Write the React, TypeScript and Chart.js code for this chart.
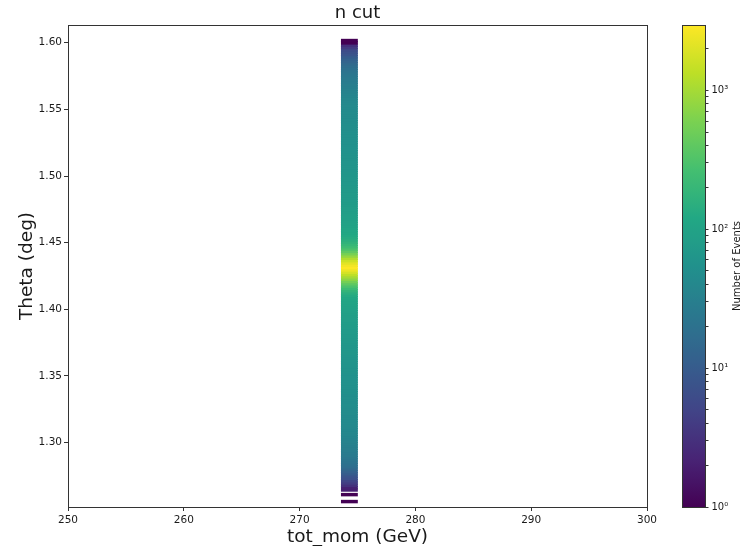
import React, { useEffect, useRef } from "react";
import { Chart, registerables } from "chart.js";

Chart.register(...registerables);

// ---------- text ----------
const TITLE = "n cut";
const X_LABEL = "tot_mom (GeV)";
const Y_LABEL = "Theta (deg)";
const CB_LABEL = "Number of Events";

// ---------- axes ----------
const X_MIN = 250;
const X_MAX = 300;
const X_TICKS = [250, 260, 270, 280, 290, 300];
const Y_MIN = 1.2517;
const Y_MAX = 1.6133;
const Y_TICKS = [1.3, 1.35, 1.4, 1.45, 1.5, 1.55, 1.6];
const CB_TICKS = [
  1, 2, 3, 4, 5, 6, 7, 8, 9,
  10, 20, 30, 40, 50, 60, 70, 80, 90,
  100, 200, 300, 400, 500, 600, 700, 800, 900,
  1000, 2000,
];
const SUP: Record<string, string> = { "0": "⁰", "1": "¹", "2": "²", "3": "³", "4": "⁴" };

// ---------- histogram data ----------
// the single occupied tot_mom bin (GeV)
const MOM_BIN_LO = 273.6;
const MOM_BIN_HI = 275.0;
// theta bins: lower edge of first bin and bin width (deg)
const THETA_START = 1.2549;
const THETA_WIDTH = 0.001738;
// counts per theta bin, from lowest theta upward (200 bins)
const COUNTS = [
  1, 0, 0, 1, 0,
  2, 2, 3,
  4, 5,
  7, 8, 10,
  12, 14, 17, 19,
  21, 22, 24, 26, 27, 29, 30, 31, 33,
  34, 35, 37, 38, 39, 40, 41, 42, 43, 44,
  45, 44, 46, 47, 46, 48, 49, 48, 50, 51,
  50, 52, 53, 52, 54, 55, 54, 56, 57, 56,
  58, 59, 58, 60, 61, 62, 61, 63, 64, 65,
  66, 65, 67, 69, 70, 71, 72, 74, 75, 77,
  78, 80, 82, 84, 86, 88, 91, 94, 97, 100, 104, 108,
  115, 130, 150, 180,
  230, 300, 400, 550,
  750, 1000, 1350, 1800,
  2400, 2950, 2600, 2100,
  1600, 1150, 800, 560,
  400, 300, 240, 200,
  170, 150, 135, 125,
  118, 112, 107, 103, 99, 96, 93, 90, 88, 86, 84, 82, 80, 78, 77,
  75, 74, 73, 72, 71, 70, 69, 68, 67, 66,
  65, 64, 63, 62, 62, 61, 60, 59, 58, 58,
  57, 56, 56, 55, 54, 54, 53, 52, 52, 51,
  50, 50, 49, 48, 48, 47, 46, 46, 45, 44, 43, 42, 41,
  39, 37, 36, 34, 33, 31, 30, 28, 27, 25, 24, 22, 21,
  19, 17, 15, 13, 12, 10,
  8, 7, 6,
  4, 3,
  1, 1,
];

// ---------- style ----------
const VIRIDIS = [
  "#440154", "#482475", "#414487", "#355f8d", "#2a788e", "#21918c",
  "#22a884", "#44bf70", "#7ad151", "#bddf26", "#fde725",
];
const FONT = '"DejaVu Sans", "Liberation Sans", sans-serif';
const INK = "#1a1a1a";
const SPINE = "#333333";

function hexToRgb(h: string) {
  return [parseInt(h.slice(1, 3), 16), parseInt(h.slice(3, 5), 16), parseInt(h.slice(5, 7), 16)];
}
function viridis(t: number) {
  const tt = Math.max(0, Math.min(1, t)) * (VIRIDIS.length - 1);
  const i = Math.min(VIRIDIS.length - 2, Math.floor(tt));
  const f = tt - i;
  const a = hexToRgb(VIRIDIS[i]);
  const b = hexToRgb(VIRIDIS[i + 1]);
  const c = a.map((v, k) => Math.round(v + (b[k] - v) * f));
  return `rgb(${c[0]},${c[1]},${c[2]})`;
}

const VMAX = Math.max(...COUNTS);
const LOG_VMAX = Math.log10(VMAX);

const W = 748;
const H = 546;
const PLOT_LEFT = 68;
const PLOT_RIGHT = 647;
const PLOT_TOP = 25;
const PLOT_BOTTOM = 507;
const CB_CANVAS_LEFT = 640;
const CB_CANVAS_W = 108;
const CB_LEFT = 682;
const CB_RIGHT = 705;
// bar thickness in px for one theta bin (slight overlap avoids seams)
const BIN_PX = ((PLOT_BOTTOM - PLOT_TOP) / (Y_MAX - Y_MIN)) * THETA_WIDTH + 0.5;

const framePlugin = {
  id: "frame",
  afterDraw(chart: any) {
    const { ctx, chartArea: a } = chart;
    ctx.save();
    ctx.strokeStyle = SPINE;
    ctx.lineWidth = 1;
    ctx.strokeRect(Math.round(a.left) + 0.5, Math.round(a.top) + 0.5,
      Math.round(a.right - a.left), Math.round(a.bottom - a.top));
    ctx.fillStyle = INK;
    ctx.font = `18px ${FONT}`;
    ctx.textAlign = "center";
    ctx.textBaseline = "alphabetic";
    ctx.fillText(TITLE, (a.left + a.right) / 2, 18);
    ctx.restore();
  },
};

const cbPlugin = {
  id: "cbframe",
  afterDraw(chart: any) {
    const { ctx, chartArea: a } = chart;
    ctx.save();
    ctx.strokeStyle = SPINE;
    ctx.lineWidth = 1;
    ctx.strokeRect(Math.round(a.left) + 0.5, Math.round(a.top) + 0.5,
      Math.round(a.right - a.left), Math.round(a.bottom - a.top));
    ctx.fillStyle = INK;
    ctx.font = `10px ${FONT}`;
    ctx.textAlign = "center";
    ctx.textBaseline = "middle";
    ctx.translate(97, (a.top + a.bottom) / 2);
    ctx.rotate(-Math.PI / 2);
    ctx.fillText(CB_LABEL, 0, 0);
    ctx.restore();
  },
};

export default function App() {
  const mainRef = useRef<HTMLCanvasElement>(null);
  const cbRef = useRef<HTMLCanvasElement>(null);

  useEffect(() => {
    const points: any[] = [];
    const colors: string[] = [];
    COUNTS.forEach((c, i) => {
      if (c <= 0) return;
      points.push({ x: [MOM_BIN_LO, MOM_BIN_HI], y: THETA_START + (i + 0.5) * THETA_WIDTH });
      colors.push(viridis(Math.log10(c) / LOG_VMAX));
    });

    const main = new Chart(mainRef.current!, {
      type: "bar",
      data: {
        datasets: [
          {
            data: points,
            backgroundColor: colors,
            borderWidth: 0,
            barThickness: BIN_PX,
            grouped: false,
          } as any,
        ],
      },
      options: {
        indexAxis: "y",
        responsive: false,
        animation: false,
        layout: { padding: { top: PLOT_TOP, right: W - PLOT_RIGHT, bottom: 0, left: 0 } },
        plugins: { legend: { display: false }, tooltip: { enabled: false }, title: { display: false } },
        scales: {
          x: {
            type: "linear",
            position: "bottom",
            min: X_MIN,
            max: X_MAX,
            offset: false,
            afterBuildTicks: (s: any) => { s.ticks = X_TICKS.map((v) => ({ value: v })); },
            afterFit: (s: any) => { s.height = H - PLOT_BOTTOM; },
            ticks: { color: INK, font: { family: FONT, size: 10.5 }, padding: 3, maxRotation: 0, autoSkip: false },
            grid: { drawOnChartArea: false, drawTicks: true, tickLength: 4, color: SPINE, offset: false },
            border: { display: false },
            title: { display: true, text: X_LABEL, color: INK, font: { family: FONT, size: 18.5, lineHeight: 1 }, padding: { top: 0, bottom: 0 } },
          },
          y: {
            type: "linear",
            position: "left",
            min: Y_MIN,
            max: Y_MAX,
            offset: false,
            afterBuildTicks: (s: any) => { s.ticks = Y_TICKS.map((v) => ({ value: v })); },
            afterFit: (s: any) => { s.width = PLOT_LEFT; },
            ticks: { color: INK, font: { family: FONT, size: 10.5 }, padding: 2, autoSkip: false, callback: (v: any) => Number(v).toFixed(2) },
            grid: { drawOnChartArea: false, drawTicks: true, tickLength: 4, color: SPINE, offset: false },
            border: { display: false },
            title: { display: true, text: Y_LABEL, color: INK, font: { family: FONT, size: 18.5, lineHeight: 1 }, padding: { top: 18, bottom: 0 } },
          },
        },
      } as any,
      plugins: [framePlugin],
    });

    const cb = new Chart(cbRef.current!, {
      type: "bar",
      data: {
        labels: ["cb"],
        datasets: [
          {
            data: [[1, VMAX]],
            borderWidth: 0,
            barPercentage: 1,
            categoryPercentage: 1,
            backgroundColor: (ctx: any) => {
              const a = ctx.chart.chartArea;
              if (!a) return VIRIDIS[5];
              const g = ctx.chart.ctx.createLinearGradient(0, a.bottom, 0, a.top);
              for (let k = 0; k <= 40; k++) g.addColorStop(k / 40, viridis(k / 40));
              return g;
            },
          } as any,
        ],
      },
      options: {
        responsive: false,
        animation: false,
        layout: { padding: { top: PLOT_TOP, bottom: H - PLOT_BOTTOM, left: CB_LEFT - CB_CANVAS_LEFT, right: 0 } },
        plugins: { legend: { display: false }, tooltip: { enabled: false } },
        scales: {
          x: { type: "category", display: false },
          y: {
            type: "logarithmic",
            position: "right",
            min: 1,
            max: VMAX,
            afterBuildTicks: (s: any) => { s.ticks = CB_TICKS.map((v) => ({ value: v })); },
            afterFit: (s: any) => { s.width = CB_CANVAS_W - (CB_RIGHT - CB_CANVAS_LEFT); },
            ticks: {
              color: INK,
              autoSkip: false,
              padding: 3,
              font: { family: FONT, size: 10 },
              callback: (v: any) => {
                const e = Math.log10(Number(v));
                if (Math.abs(e - Math.round(e)) < 1e-9) return "10" + SUP[String(Math.round(e))];
                return "";
              },
            },
            grid: { drawOnChartArea: false, drawTicks: true, tickLength: 3.5, color: SPINE },
            border: { display: false },
          },
        },
      } as any,
      plugins: [cbPlugin],
    });

    return () => {
      main.destroy();
      cb.destroy();
    };
  }, []);

  return (
    <div style={{ position: "fixed", left: 0, top: 0, width: W, height: H, background: "#fff" }}>
      <canvas ref={mainRef} width={W} height={H} style={{ position: "absolute", left: 0, top: 0 }} />
      <canvas ref={cbRef} width={CB_CANVAS_W} height={H} style={{ position: "absolute", left: CB_CANVAS_LEFT, top: 0 }} />
    </div>
  );
}
